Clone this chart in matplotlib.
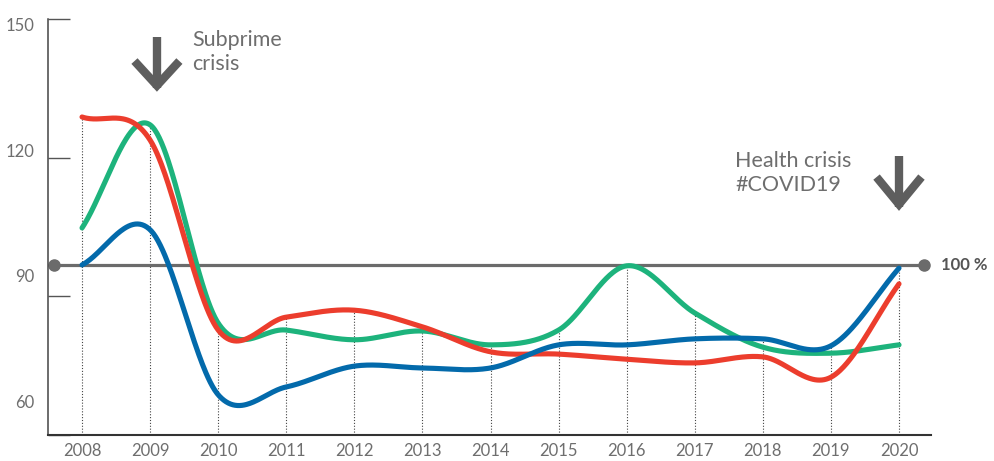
import numpy as np
import matplotlib
matplotlib.use('Agg')
import matplotlib.pyplot as plt
from matplotlib.transforms import ScaledTranslation

# data (index values per year)
years = list(range(2008, 2021))
red = [128.8, 123.8, 82.7, 85.5, 87.0, 83.4, 78.0, 77.5, 76.4, 75.6, 76.9, 72.5, 92.7]
green = [104.8, 127.1, 84.2, 82.7, 80.6, 82.5, 79.5, 82.7, 96.6, 86.4, 79.0, 77.7, 79.5]
blue = [96.8, 104.4, 68.7, 70.4, 74.9, 74.5, 74.5, 79.5, 79.5, 80.8, 80.8, 79.3, 96.1]
ref_level = 96.8          # "100 %" reference line
ytick_values = [60, 90, 120, 150]
ytick_labels = ['60', '90', '120', '150']
ylabel_shift = [-34, -21, -7, 5]   # label offsets in px (drawn off the tick in the original)

RED, GREEN, BLUE = '#EC3D2D', '#1DB37C', '#036AAB'
GREY_TXT = '#6e6e6e'
GREY_LINE = '#6b6b6b'
FONT = ['Lato', 'DejaVu Sans']


def smooth(x, y, n=60):
    """catmull-rom through the points"""
    x = np.asarray(x, float)
    y = np.asarray(y, float)
    m = np.empty_like(y)
    m[1:-1] = (y[2:] - y[:-2]) / (x[2:] - x[:-2])
    m[0] = (y[1] - y[0]) / (x[1] - x[0])
    m[-1] = (y[-1] - y[-2]) / (x[-1] - x[-2])
    xs, ys = [], []
    for i in range(len(x) - 1):
        h = x[i + 1] - x[i]
        t = np.linspace(0, 1, n, endpoint=(i == len(x) - 2))
        h00 = 2 * t**3 - 3 * t**2 + 1
        h10 = t**3 - 2 * t**2 + t
        h01 = -2 * t**3 + 3 * t**2
        h11 = t**3 - t**2
        xs.append(x[i] + t * h)
        ys.append(h00 * y[i] + h10 * h * m[i] + h01 * y[i + 1] + h11 * h * m[i + 1])
    return np.concatenate(xs), np.concatenate(ys)


def down_arrow(ax, x, top, tip, wing, half=0.33):
    kw = dict(color='#5e5e5e', lw=6, solid_joinstyle='miter', solid_capstyle='butt',
              clip_on=False, zorder=6)
    ax.plot([x, x], [top, tip + 0.6], **kw)
    ax.plot([x - half, x, x + half], [wing, tip + 1.2, wing], **kw)


plt.rcParams['font.family'] = FONT
fig = plt.figure(figsize=(9.95, 4.61), dpi=100)
ax = fig.add_axes([48 / 995, 1 - 435 / 461, 883 / 995, 416 / 461])
ax.set_xlim(2007.5, 2020.47)
ax.set_ylim(60, 150)

# dotted guides from the highest curve down to the axis
tops = np.max([red, green, blue], axis=0)
ax.vlines(years, 60, tops, colors='#444444', linestyles=(0, (1, 1.6)), lw=0.8, zorder=1)

# reference line
ax.plot([2007.59, 2020.37], [ref_level, ref_level], color=GREY_LINE, lw=2.3,
        marker='o', markersize=8, markevery=[0, 1], clip_on=False, zorder=2)
ax.text(2020.62, ref_level, '100 %', color='#555555', fontsize=12, fontweight='bold',
        va='center', ha='left', clip_on=False)

for series, col, z in [(green, GREEN, 3), (red, RED, 4), (blue, BLUE, 5)]:
    sx, sy = smooth(years, series)
    ax.plot(sx, sy, color=col, lw=3.7, solid_capstyle='round', zorder=z, clip_on=False)

# annotations
down_arrow(ax, 2009.1, 146.1, 134.4, 140.9)
ax.text(2009.62, 147.6, 'Subprime\ncrisis', fontsize=15.5, color=GREY_TXT,
        va='top', ha='left', linespacing=1.22)
down_arrow(ax, 2020.0, 120.4, 108.7, 115.8)
ax.text(2017.59, 121.4, 'Health crisis\n#COVID19', fontsize=15.5, color=GREY_TXT,
        va='top', ha='left', linespacing=1.22)

# axes styling
for side in ['top', 'right']:
    ax.spines[side].set_visible(False)
ax.spines['left'].set_color('#444444')
ax.spines['left'].set_linewidth(1.1)
ax.spines['bottom'].set_color('#333333')
ax.spines['bottom'].set_linewidth(1.5)

ax.set_yticks(ytick_values)
ax.set_yticklabels(ytick_labels)
ax.tick_params(axis='y', direction='in', length=16, width=1, color='#555555',
               labelsize=12, labelcolor=GREY_TXT, pad=10)
for lab, dy in zip(ax.get_yticklabels(), ylabel_shift):
    lab.set_transform(lab.get_transform() + ScaledTranslation(0, -dy / 100, fig.dpi_scale_trans))

ax.set_xticks(years)
ax.set_xticklabels([str(y) for y in years])
ax.tick_params(axis='x', length=0, labelsize=12, labelcolor=GREY_TXT, pad=6)

fig.savefig('out.png', dpi=100)
